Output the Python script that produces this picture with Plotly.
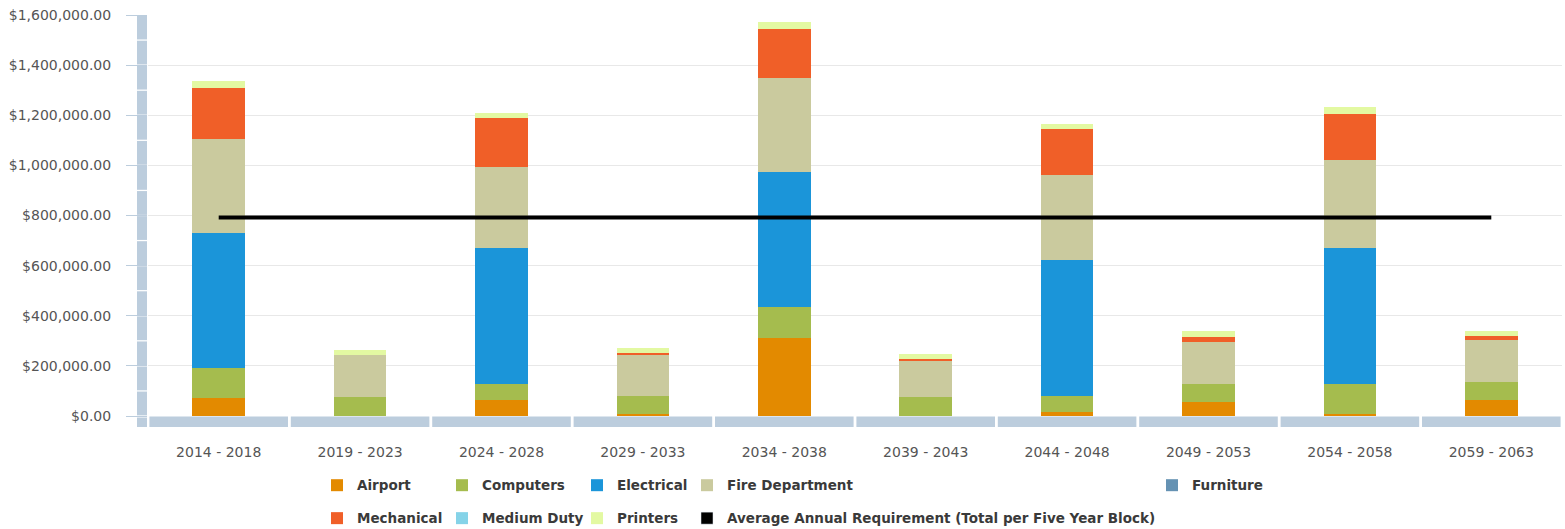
import plotly.graph_objects as go

periods = ["2014 - 2018", "2019 - 2023", "2024 - 2028", "2029 - 2033", "2034 - 2038",
           "2039 - 2043", "2044 - 2048", "2049 - 2053", "2054 - 2058", "2059 - 2063"]

airport = [71000, 0, 65000, 9000, 312000, 0, 15000, 55000, 9000, 62000]
computers = [119000, 76000, 62000, 70000, 122000, 75000, 64000, 73000, 119000, 75000]
electrical = [542000, 0, 543000, 0, 541000, 0, 542000, 0, 543000, 0]
fire_department = [372000, 166000, 323000, 163000, 372000, 147000, 342000, 168000, 351000, 165000]
furniture = [0, 0, 0, 0, 0, 0, 0, 0, 0, 0]
mechanical = [203000, 0, 197000, 11000, 197000, 7000, 182000, 21000, 182000, 19000]
medium_duty = [0, 0, 0, 0, 0, 0, 0, 0, 0, 0]
printers = [31000, 20000, 19000, 17000, 30000, 20000, 19000, 21000, 29000, 17000]
average_requirement = [792000, 792000, 792000, 792000, 792000, 792000, 792000, 792000, 792000, 792000]

y_ticks = [0, 200000, 400000, 600000, 800000, 1000000, 1200000, 1400000, 1600000]

# ---- layout geometry (pixels) ----
W, H = 1565, 529
ML, MR, MT, MB = 148, 3, 15, 112.5
PW, PH = W - ML - MR, H - MT - MB


def px_to_paper(px, py):
    return (px - ML) / PW, (H - MB - py) / PH


series = [
    ("Airport", airport, "#E38A00"),
    ("Computers", computers, "#A5BC4E"),
    ("Electrical", electrical, "#1B95D9"),
    ("Fire Department", fire_department, "#CACA9E"),
    ("Furniture", furniture, "#6592B3"),
    ("Mechanical", mechanical, "#F05F28"),
    ("Medium Duty", medium_duty, "#85D3E8"),
    ("Printers", printers, "#E3F9A2"),
]

avg_name = "Average Annual Requirement (Total per Five Year Block)"

# legend placement: text start x, row centre y
legend_pos = {
    "Airport": (357, 486), "Computers": (482, 486), "Electrical": (617, 486),
    "Fire Department": (727, 486), "Furniture": (1192, 486),
    "Mechanical": (357, 519), "Medium Duty": (482, 519), "Printers": (617, 519),
    avg_name: (727, 519),
}
legend_ids = {}
for i, name in enumerate(legend_pos):
    legend_ids[name] = "legend" if i == 0 else f"legend{i + 1}"

fig = go.Figure()
for name, vals, color in series:
    fig.add_trace(go.Bar(
        name=name, x=periods, y=vals,
        marker=dict(color=color, line=dict(width=0)),
        legend=legend_ids[name],
    ))

# legend entry for the average line (square swatch as in the original)
fig.add_trace(go.Bar(name=avg_name, x=periods, y=[None] * len(periods),
                     marker=dict(color="#000000"), legend=legend_ids[avg_name]))
fig.add_trace(go.Scatter(name=avg_name, x=periods, y=average_requirement, mode="lines",
                         line=dict(color="#000000", width=4), showlegend=False))

band = "#BCCDDD"
shapes = []
# vertical axis band
for v in range(0, 1600000, 100000):
    shapes.append(dict(type="rect", xref="paper", xsizemode="pixel", xanchor=0, x0=-11, x1=-1,
                       yref="y", y0=v + 2500, y1=v + 97500, fillcolor=band, line=dict(width=0),
                       layer="above"))
# corner piece
shapes.append(dict(type="rect", xref="paper", xsizemode="pixel", xanchor=0, x0=-11, x1=-1,
                   yref="paper", ysizemode="pixel", yanchor=0, y0=-11, y1=-1.5,
                   fillcolor=band, line=dict(width=0), layer="above"))
# horizontal axis band
for i in range(len(periods)):
    shapes.append(dict(type="rect", xref="x", x0=i - 0.49, x1=i + 0.49,
                       yref="paper", ysizemode="pixel", yanchor=0, y0=-11, y1=-0.5,
                       fillcolor=band, line=dict(width=0), layer="above"))

layout_legends = {}
for name, (tx, ty) in legend_pos.items():
    lx, ly = px_to_paper(tx - 40, ty)
    layout_legends[legend_ids[name]] = dict(
        x=lx, y=ly, xanchor="left", yanchor="middle", orientation="v",
        bgcolor="rgba(0,0,0,0)", borderwidth=0,
        font=dict(family="DejaVu Sans", size=13.5, color="#3A3A3A", weight="bold"),
    )

fig.update_layout(
    width=W, height=H,
    margin=dict(l=ML, r=MR, t=MT, b=MB, pad=0, autoexpand=False),
    paper_bgcolor="#FFFFFF", plot_bgcolor="#FFFFFF",
    barmode="stack", bargap=0.628,
    font=dict(family="DejaVu Sans", size=13, color="#555555"),
    shapes=shapes,
    **layout_legends,
)
fig.update_xaxes(type="category", range=[-0.5, 9.5], showgrid=False, showline=False,
                 zeroline=False, ticks="", ticklabelstandoff=26,
                 tickfont=dict(family="DejaVu Sans", size=14, color="#555555"))
fig.update_yaxes(range=[0, 1600000], tickvals=y_ticks, tickformat="$,.2f",
                 showgrid=True, gridcolor="#E8E8E8", gridwidth=1, zeroline=False,
                 showline=False, ticks="outside", ticklen=21, tickcolor="#BCCDDD",
                 ticklabelstandoff=12,
                 tickfont=dict(family="DejaVu Sans", size=14, color="#555555"))

fig.write_html("out.html")
